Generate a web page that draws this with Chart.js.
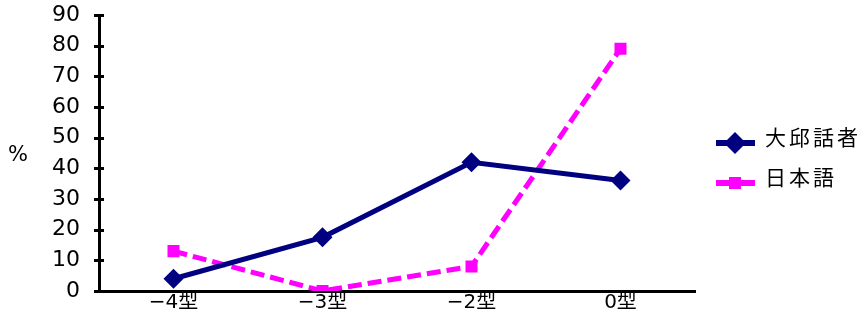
<!DOCTYPE html>
<html>
<head>
<meta charset="utf-8">
<script src="https://cdn.jsdelivr.net/npm/chart.js@4"></script>
<style>
  html, body { margin: 0; padding: 0; background: #fff; }
  #wrap { width: 861px; height: 329px; position: relative; }
</style>
</head>
<body>
<div id="wrap"><canvas id="c"></canvas></div>
<script>
// Accent types on the x axis
const categories = ['−4型', '−3型', '−2型', '0型'];
// Percentages per accent type
const daeguSpeakers = [4, 17.5, 42, 36];
const japanese = [13, 0, 8, 79];
const seriesNames = ['大邱話者', '日本語'];
const yTicks = [0, 10, 20, 30, 40, 50, 60, 70, 80, 90];

const FONT = '"DejaVu Sans", "Noto Sans CJK KR", sans-serif';
const CJK = '"Noto Sans CJK KR", sans-serif';

// Axis tick marks that cross the y axis line, plus the "%" label
const axisExtras = {
  id: 'axisExtras',
  afterDraw(chart) {
    const { ctx, scales: { y }, chartArea } = chart;
    ctx.save();
    ctx.strokeStyle = '#000';
    ctx.lineWidth = 3;
    yTicks.forEach(v => {
      const py = Math.round(y.getPixelForValue(v)) + 0.5;
      ctx.beginPath();
      ctx.moveTo(chartArea.left - 5, py);
      ctx.lineTo(chartArea.left + 5, py);
      ctx.stroke();
    });
    ctx.fillStyle = '#000';
    ctx.font = '21px ' + FONT;
    ctx.textAlign = 'center';
    ctx.textBaseline = 'middle';
    ctx.fillText('%', 18, 156);
    ctx.restore();
  }
};

// Legend with a line segment and marker for each series
const lineLegend = {
  id: 'lineLegend',
  afterDraw(chart) {
    const { ctx } = chart;
    ctx.save();
    chart.data.datasets.forEach((ds, i) => {
      const cy = 143 + i * 40;
      ctx.strokeStyle = ds.borderColor;
      ctx.lineWidth = 6;
      ctx.beginPath();
      ctx.moveTo(716, cy);
      ctx.lineTo(755, cy);
      ctx.stroke();
      ctx.fillStyle = ds.pointBackgroundColor;
      ctx.beginPath();
      if (ds.pointStyle === 'rectRot') {
        ctx.moveTo(735, cy - 11);
        ctx.lineTo(746, cy);
        ctx.lineTo(735, cy + 11);
        ctx.lineTo(724, cy);
        ctx.closePath();
      } else {
        ctx.rect(729, cy - 6, 12, 12);
      }
      ctx.fill();
      ctx.fillStyle = '#000';
      ctx.font = '21px ' + CJK;
      if ('letterSpacing' in ctx) ctx.letterSpacing = '3px';
      ctx.textAlign = 'left';
      ctx.textBaseline = 'middle';
      ctx.fillText(ds.label, 765, cy - 6);
      if ('letterSpacing' in ctx) ctx.letterSpacing = '0px';
    });
    ctx.restore();
  }
};

new Chart(document.getElementById('c'), {
  type: 'line',
  data: {
    labels: categories,
    datasets: [
      {
        label: seriesNames[0],
        data: daeguSpeakers,
        borderColor: '#000080',
        backgroundColor: '#000080',
        pointBackgroundColor: '#000080',
        pointBorderColor: '#000080',
        borderWidth: 5,
        pointStyle: 'rectRot',
        pointRadius: 10,
        pointBorderWidth: 0,
        tension: 0
      },
      {
        label: seriesNames[1],
        data: japanese,
        borderColor: '#FF00FF',
        backgroundColor: '#FF00FF',
        pointBackgroundColor: '#FF00FF',
        pointBorderColor: '#FF00FF',
        borderWidth: 5,
        borderDash: [14, 6],
        pointStyle: 'rect',
        pointRadius: 8.5,
        pointBorderWidth: 0,
        tension: 0
      }
    ]
  },
  options: {
    responsive: true,
    maintainAspectRatio: false,
    animation: false,
    events: [],
    layout: { padding: { top: 15, right: 166, left: 0, bottom: 0 } },
    plugins: {
      legend: { display: false },
      tooltip: { enabled: false },
      title: { display: false }
    },
    scales: {
      x: {
        offset: true,
        grid: { display: false, drawTicks: false },
        border: { display: true, color: '#000', width: 3 },
        ticks: {
          color: '#000',
          padding: 0,
          font: { size: 20, family: FONT }
        },
        afterFit(s) { s.height = 38; s.paddingLeft = 0; s.paddingRight = 0; }
      },
      y: {
        min: 0,
        max: 90,
        afterBuildTicks(s) { s.ticks = yTicks.map(v => ({ value: v })); },
        grid: { display: false, drawTicks: false },
        border: { display: true, color: '#000', width: 3 },
        ticks: {
          color: '#000',
          padding: 19,
          font: { size: 22, family: FONT }
        },
        afterFit(s) { s.width = 99; s.paddingTop = 0; s.paddingBottom = 0; }
      }
    }
  },
  plugins: [axisExtras, lineLegend]
});
</script>
</body>
</html>
